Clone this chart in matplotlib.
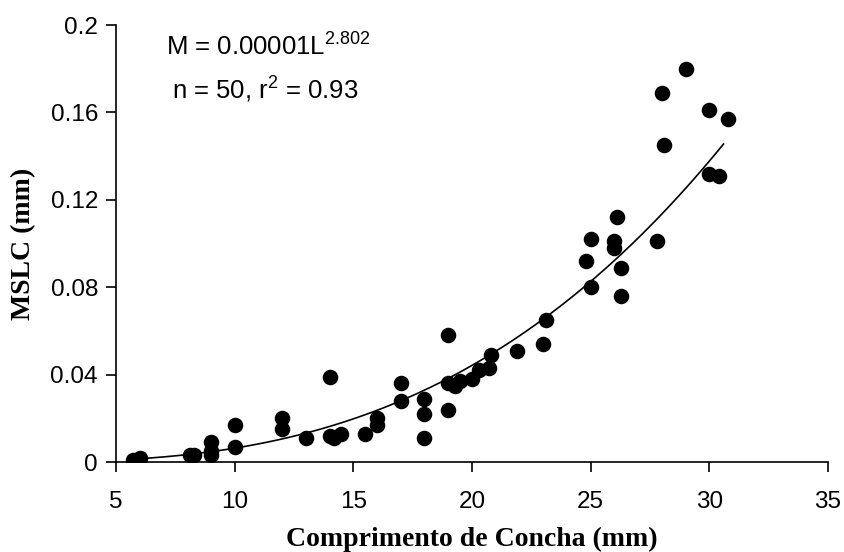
import matplotlib
matplotlib.use("Agg")
import matplotlib.pyplot as plt
import numpy as np

# shell length (mm) vs MSLC
comprimento = [5.7, 6.0, 8.1, 8.3, 9.0, 9.0, 9.0, 10.0, 10.0, 12.0, 12.0, 13.0,
	14.0, 14.0, 14.2, 14.5, 15.5, 16.0, 16.0, 17.0, 17.0, 18.0, 18.0, 18.0,
	19.0, 19.0, 19.0, 19.3, 19.5, 20.0, 20.3, 20.7, 20.8, 21.9, 23.0, 23.1,
	24.8, 25.0, 25.0, 26.0, 26.0, 26.1, 26.3, 26.3, 27.8, 28.0, 28.1, 29.0,
	30.0, 30.0, 30.4, 30.8]
mslc = [0.001, 0.002, 0.003, 0.003, 0.009, 0.005, 0.003, 0.017, 0.007, 0.020, 0.015, 0.011,
	0.039, 0.012, 0.011, 0.013, 0.013, 0.017, 0.020, 0.036, 0.028, 0.029, 0.022, 0.011,
	0.058, 0.036, 0.024, 0.035, 0.037, 0.038, 0.042, 0.043, 0.049, 0.051, 0.054, 0.065,
	0.092, 0.102, 0.080, 0.098, 0.101, 0.112, 0.089, 0.076, 0.101, 0.169, 0.145, 0.180,
	0.161, 0.132, 0.131, 0.157]

# power fit given on the chart: M = a * L^b
coef_a = 0.00001
coef_b = 2.802
fit_range = [5.7, 30.6]

x_ticks = [5, 10, 15, 20, 25, 30, 35]
y_ticks = [0, 0.04, 0.08, 0.12, 0.16, 0.2]
y_ticklabels = ["0", "0.04", "0.08", "0.12", "0.16", "0.2"]

plt.rcParams["font.family"] = ["Liberation Sans", "DejaVu Sans"]
plt.rcParams["mathtext.default"] = "regular"

fig = plt.figure(figsize=(8.44, 5.52), dpi=100)
ax = fig.add_axes([0.1374, 0.163, 0.8436, 0.7917])

ax.scatter(comprimento, mslc, s=125, color="black", zorder=3, linewidths=0)
xs = np.linspace(fit_range[0], fit_range[1], 200)
ax.plot(xs, coef_a * xs ** coef_b, color="black", lw=1.2, zorder=2)

ax.set_xlim(5, 35)
ax.set_ylim(0, 0.2)
ax.set_xticks(x_ticks)
ax.set_yticks(y_ticks)
ax.set_yticklabels(y_ticklabels)
ax.tick_params(axis="both", labelsize=17.5, direction="out", length=7, width=1.2, colors="black")
ax.tick_params(axis="x", pad=14)
ax.tick_params(axis="y", pad=6)
ax.spines["top"].set_visible(False)
ax.spines["right"].set_visible(False)
for s in ["left", "bottom"]:
	ax.spines[s].set_linewidth(1.2)

ax.set_xlabel("Comprimento de Concha (mm)", family="Liberation Serif", fontweight="bold", fontsize=20, labelpad=10)
ax.set_ylabel("MSLC (mm)", family="Liberation Serif", fontweight="bold", fontsize=20, labelpad=10)

ax.text(11.4, 0.190, r"M = 0.00001L$^{2.802}$", fontsize=18.5, ha="center", va="center")
ax.text(11.3, 0.1705, r"n = 50, r$^{2}$ = 0.93", fontsize=18.5, ha="center", va="center")

fig.savefig("out.png", dpi=100)
